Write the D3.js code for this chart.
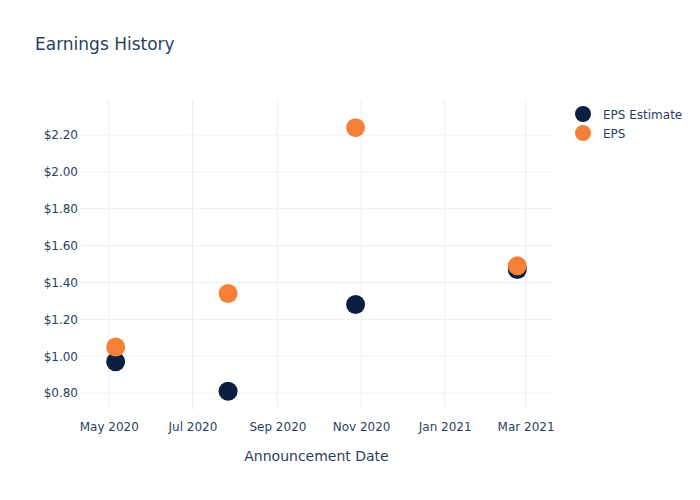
<!DOCTYPE html>
<html>
<head>
<meta charset="utf-8">
<script src="https://cdn.jsdelivr.net/npm/d3@7"></script>
<style>
  body { margin: 0; background: #fff; }
  text { font-family: "DejaVu Sans", sans-serif; fill: #2a3f5f; }
</style>
</head>
<body>
<div id="chart"></div>
<script>
// data
var dates = ["2020-05-06", "2020-07-27", "2020-10-28", "2021-02-23"];
var epsEstimate = [0.97, 0.81, 1.28, 1.47];
var eps = [1.05, 1.34, 2.24, 1.49];
var seriesNames = ["EPS Estimate", "EPS"];
var seriesColors = ["#0c1f40", "#f68038"];
var yTicks = [0.8, 1.0, 1.2, 1.4, 1.6, 1.8, 2.0, 2.2];

var width = 700, height = 500;
var margin = {top: 100, right: 147, bottom: 90, left: 80};

var parse = d3.timeParse("%Y-%m-%d");

var svg = d3.select("#chart").append("svg")
    .attr("width", width)
    .attr("height", height);

var x = d3.scaleTime()
    .domain([parse("2020-04-10"), parse("2021-03-21")])
    .range([margin.left, width - margin.right]);

var y = d3.scaleLinear()
    .domain([0.708, 2.39])
    .range([height - margin.bottom, margin.top]);

// grid
var xTicks = x.ticks(d3.timeMonth.every(2));
svg.append("g").selectAll("line")
    .data(xTicks)
    .enter().append("line")
    .attr("x1", function(d){ return x(d); })
    .attr("x2", function(d){ return x(d); })
    .attr("y1", margin.top)
    .attr("y2", height - margin.bottom)
    .attr("stroke", "#ebf0f8")
    .attr("stroke-width", 1);

svg.append("g").selectAll("line")
    .data(yTicks)
    .enter().append("line")
    .attr("x1", margin.left)
    .attr("x2", width - margin.right)
    .attr("y1", function(d){ return y(d); })
    .attr("y2", function(d){ return y(d); })
    .attr("stroke", "#ebf0f8")
    .attr("stroke-width", 1);

// axes
var xAxis = d3.axisBottom(x)
    .tickValues(xTicks)
    .tickFormat(d3.timeFormat("%b %Y"))
    .tickSize(0)
    .tickPadding(12);
svg.append("g")
    .attr("transform", "translate(0," + (height - margin.bottom) + ")")
    .call(xAxis)
    .call(function(g){ g.select(".domain").remove(); })
    .selectAll("text")
    .style("font-size", "12px");

var yAxis = d3.axisLeft(y)
    .tickValues(yTicks)
    .tickFormat(function(d){ return "$" + d3.format(".2f")(d); })
    .tickSize(0)
    .tickPadding(2);
svg.append("g")
    .attr("transform", "translate(" + margin.left + ",0)")
    .call(yAxis)
    .call(function(g){ g.select(".domain").remove(); })
    .selectAll("text")
    .style("font-size", "12px");

// points
var series = [epsEstimate, eps];
series.forEach(function(vals, i){
    svg.append("g").selectAll("circle")
        .data(vals)
        .enter().append("circle")
        .attr("cx", function(d, j){ return x(parse(dates[j])); })
        .attr("cy", function(d){ return y(d); })
        .attr("r", 9.5)
        .attr("fill", seriesColors[i]);
});

// title
svg.append("text")
    .attr("x", 35)
    .attr("y", 50)
    .style("font-size", "17px")
    .text("Earnings History");

// axis title
svg.append("text")
    .attr("x", (margin.left + width - margin.right) / 2)
    .attr("y", 461)
    .attr("text-anchor", "middle")
    .style("font-size", "14px")
    .text("Announcement Date");

// legend
var legend = svg.append("g").attr("transform", "translate(583,114)");
seriesNames.forEach(function(name, i){
    var row = legend.append("g").attr("transform", "translate(0," + (i * 19) + ")");
    row.append("circle")
        .attr("r", 8)
        .attr("fill", seriesColors[i]);
    row.append("text")
        .attr("x", 20)
        .attr("y", 4.5)
        .style("font-size", "12px")
        .text(name);
});
</script>
</body>
</html>
